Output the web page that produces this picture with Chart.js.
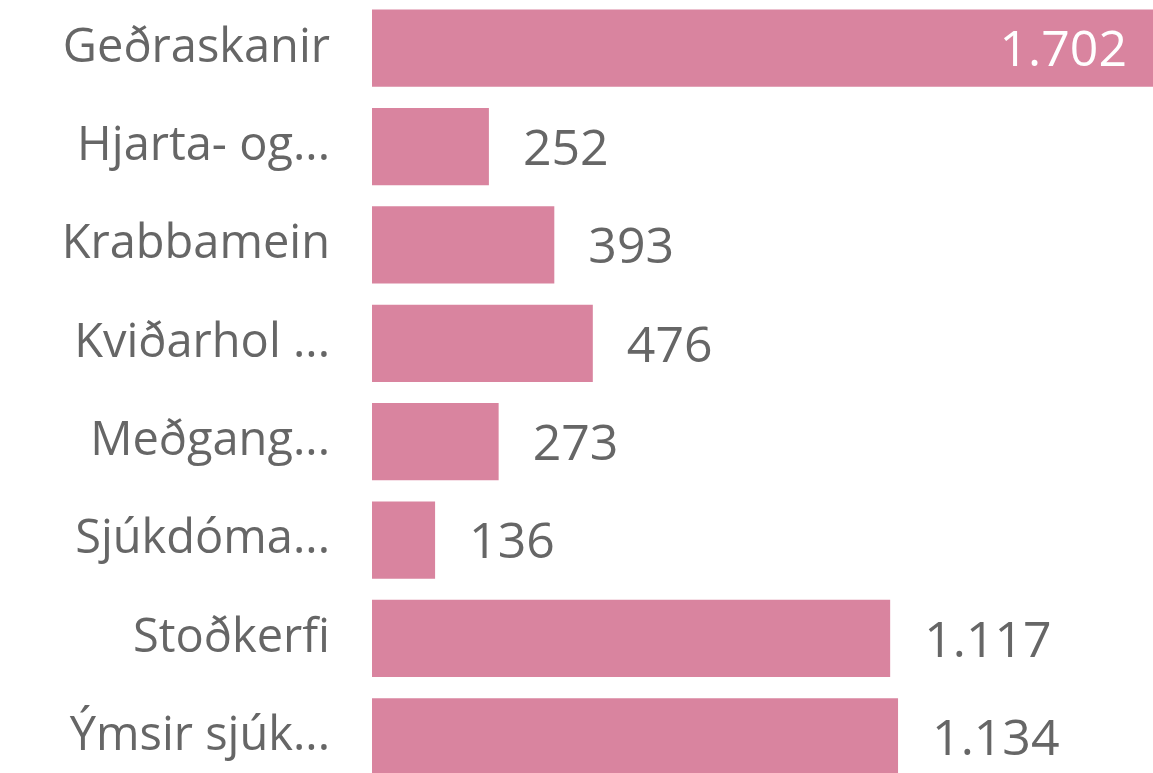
<!DOCTYPE html>
<html>
<head>
<meta charset="utf-8">
<script src="https://cdn.jsdelivr.net/npm/chart.js@4"></script>
<style>
  html, body { margin: 0; padding: 0; background: #fff; overflow: hidden; }
  #wrap { position: absolute; left: 0; top: -1px; width: 1207px; height: 787px; }
</style>
</head>
<body>
<div id="wrap"><canvas id="diseaseChart"></canvas></div>
<script>
// categories (truncated as in the original visual)
const categories = ["Geðraskanir", "Hjarta- og...", "Krabbamein", "Kviðarhol ...", "Meðgang...", "Sjúkdóma...", "Stoðkerfi", "Ýmsir sjúk..."];
const counts = [1702, 252, 393, 476, 273, 136, 1117, 1134];
const xMax = 1800;

const barColor = "#D9849F";
const textColor = "#666666";

// format with Icelandic thousands separator
const fmt = v => v.toString().replace(/\B(?=(\d{3})+(?!\d))/g, ".");

// draws the value labels next to (or inside) each bar
const valueLabels = {
  id: "valueLabels",
  afterDatasetsDraw(chart) {
    const c = chart.ctx;
    const meta = chart.getDatasetMeta(0);
    c.save();
    c.font = "50px 'Open Sans'";
    c.textBaseline = "middle";
    meta.data.forEach((bar, i) => {
      const txt = fmt(counts[i]);
      const w = c.measureText(txt).width;
      const y = bar.y + 4;
      if (bar.x + 36 + w > 1153) {
        c.fillStyle = "#ffffff";
        c.textAlign = "right";
        c.fillText(txt, 1127, y);
      } else {
        c.fillStyle = textColor;
        c.textAlign = "left";
        c.fillText(txt, bar.x + 34, y);
      }
    });
    c.restore();
  }
};

new Chart(document.getElementById("diseaseChart"), {
  type: "bar",
  data: {
    labels: categories,
    datasets: [{
      data: counts,
      backgroundColor: barColor,
      barPercentage: 0.785,
      categoryPercentage: 1
    }]
  },
  options: {
    indexAxis: "y",
    responsive: true,
    maintainAspectRatio: false,
    animation: false,
    layout: { padding: 0 },
    plugins: {
      legend: { display: false },
      tooltip: { enabled: false }
    },
    scales: {
      x: { display: false, min: 0, max: xMax },
      y: {
        // fixed label column, no extra room above/below
        afterFit: s => { s.width = 372; s.paddingTop = 0; s.paddingBottom = 0; },
        grid: { display: false, drawTicks: false },
        border: { display: false },
        ticks: {
          padding: 42,
          color: textColor,
          font: { family: "'Open Sans'", size: 47 }
        }
      }
    }
  },
  plugins: [valueLabels]
});
</script>
</body>
</html>
